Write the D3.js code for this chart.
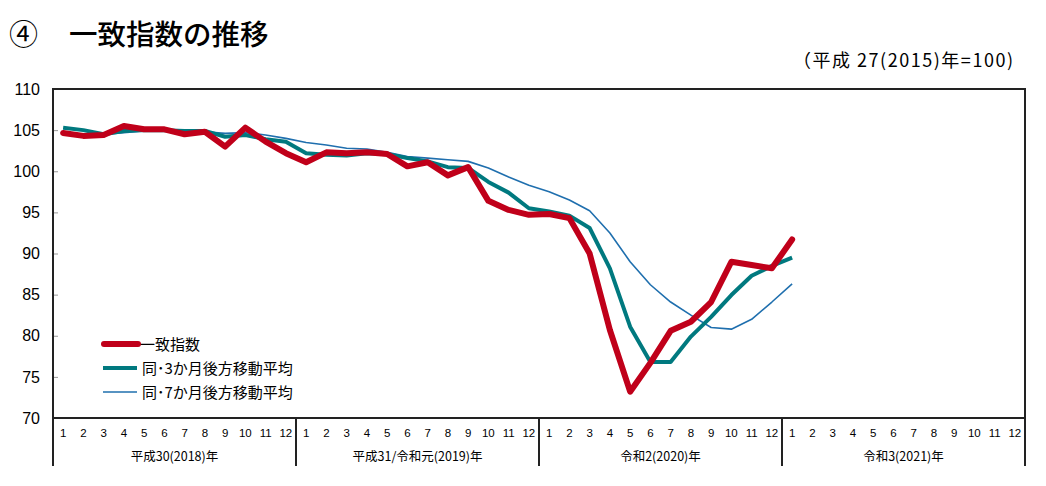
<!DOCTYPE html>
<html><head><meta charset="utf-8">
<script src="https://cdn.jsdelivr.net/npm/d3@7"></script>
<style>
body{margin:0;background:#fff;}
text{font-family:"Liberation Sans","Noto Sans CJK JP",sans-serif;}
.jp{font-family:"Noto Sans CJK JP",sans-serif;}
</style></head>
<body><svg id="c" width="1046" height="486"></svg>
<script>
const years = ["平成30(2018)年","平成31/令和元(2019)年","令和2(2020)年","令和3(2021)年"];
const monthLabels = ["1","2","3","4","5","6","7","8","9","10","11","12"];
const yTicks = [70,75,80,85,90,95,100,105,110];
const seriesNames = ["一致指数","同･3か月後方移動平均","同･7か月後方移動平均"];
const coincident = [104.65,104.3,104.4,105.5,105.1,105.1,104.5,104.8,103.0,105.3,103.6,102.2,
  101.1,102.3,102.2,102.3,102.1,100.6,101.1,99.5,100.5,96.4,95.3,94.7,
  94.8,94.3,90.0,80.7,73.2,76.7,80.6,81.7,84.1,89.0,88.6,88.2,
  91.7];
const ma3 = [105.3,105.0,104.5,104.9,105.0,105.0,104.9,104.9,104.2,104.4,103.9,103.6,
  102.2,102.0,101.9,102.2,102.1,101.6,101.2,100.5,100.4,98.7,97.4,95.5,
  95.1,94.6,93.1,88.2,81.1,76.8,76.8,79.9,82.3,84.95,87.3,88.5,
  89.5];
const ma7 = [104.5,104.5,104.5,104.7,104.9,105.0,104.9,104.8,104.6,104.7,104.4,104.0,
  103.5,103.2,102.8,102.7,102.3,101.8,101.6,101.4,101.2,100.4,99.3,98.3,
  97.5,96.5,95.2,92.5,89.0,86.2,84.1,82.5,81.0,80.8,82.0,84.1,
  86.3];
const colors = ["#c0001a","#00797f","#1f6fae"];
const widths = [6,4,1.6];

const svg = d3.select("#c");
const L=53, R=1025, T=89, B=418;
const nMonths = years.length*12;
const x = d3.scaleBand().domain(d3.range(nMonths)).range([L,R]);
const y = d3.scaleLinear().domain([70,110]).range([B,T]);

// title
svg.append("text").attr("class","jp").attr("x",9).attr("y",45).attr("font-size",29).attr("fill","#000")
  .text("④");
svg.append("text").attr("class","jp").attr("x",69).attr("y",45).attr("font-size",28.5).attr("font-weight","500").attr("fill","#000")
  .text("一致指数の推移");
svg.append("text").attr("class","jp").attr("x",793).attr("y",67).attr("font-size",18).attr("fill","#000")
  .attr("textLength",220).attr("lengthAdjust","spacing")
  .text("（平成 27(2015)年=100)");

// y axis
const yAxis = d3.axisLeft(y).tickValues(yTicks).tickSize(-5).tickPadding(13);
const gy = svg.append("g").attr("transform",`translate(${L},0)`).call(yAxis);
gy.select(".domain").remove();
gy.selectAll(".tick line").attr("stroke","#999");
gy.selectAll(".tick text").attr("font-size",16).attr("fill","#000").attr("font-family","Liberation Sans, sans-serif");

// frame
svg.append("rect").attr("x",L).attr("y",T).attr("width",R-L).attr("height",B-T)
  .attr("fill","none").attr("stroke","#222").attr("stroke-width",2);

// x axis months
const gx = svg.append("g");
const allMonths = d3.range(nMonths);
gx.selectAll("text.m").data(allMonths).join("text").attr("class","m")
  .attr("x",d=>x(d)+x.bandwidth()/2).attr("y",437).attr("text-anchor","middle")
  .attr("font-size",11.5).attr("fill","#000").text(d=>monthLabels[d%12]);
const yearBand = d3.scaleBand().domain(years).range([L,R]);
gx.selectAll("text.yr").data(years).join("text").attr("class","yr jp")
  .attr("x",d=>yearBand(d)+yearBand.bandwidth()/2).attr("y",461).attr("text-anchor","middle")
  .attr("font-size",12.5).attr("fill","#000").text(d=>d);
gx.selectAll("line.sep").data(d3.range(years.length+1)).join("line").attr("class","sep")
  .attr("x1",i=>L+i*yearBand.bandwidth()).attr("x2",i=>L+i*yearBand.bandwidth())
  .attr("y1",B).attr("y2",466).attr("stroke","#222").attr("stroke-width",2);

// lines
const allSeries = [coincident, ma3, ma7];
const line = d3.line().x((d,i)=>x(i)+x.bandwidth()/2).y(d=>y(d));
[2,1,0].forEach(k=>{
  svg.append("path").datum(allSeries[k]).attr("d",line).attr("fill","none")
    .attr("stroke",colors[k]).attr("stroke-width",widths[k]).attr("stroke-linejoin","round")
    .attr("stroke-linecap",k===0?"round":"butt");
});

// legend
const lg = svg.append("g");
seriesNames.forEach((n,k)=>{
  const ly = 344 + k*24;
  lg.append("line").attr("x1",k===0?104:103).attr("x2",k===0?138:137).attr("y1",ly).attr("y2",ly)
    .attr("stroke",colors[k]).attr("stroke-width",widths[k]).attr("stroke-linecap",k===0?"round":"butt");
  lg.append("text").attr("class","jp").attr("x",k===0?140:142).attr("y",ly+5.5).attr("font-size",15).attr("fill","#000").text(n);
});
</script></body></html>
